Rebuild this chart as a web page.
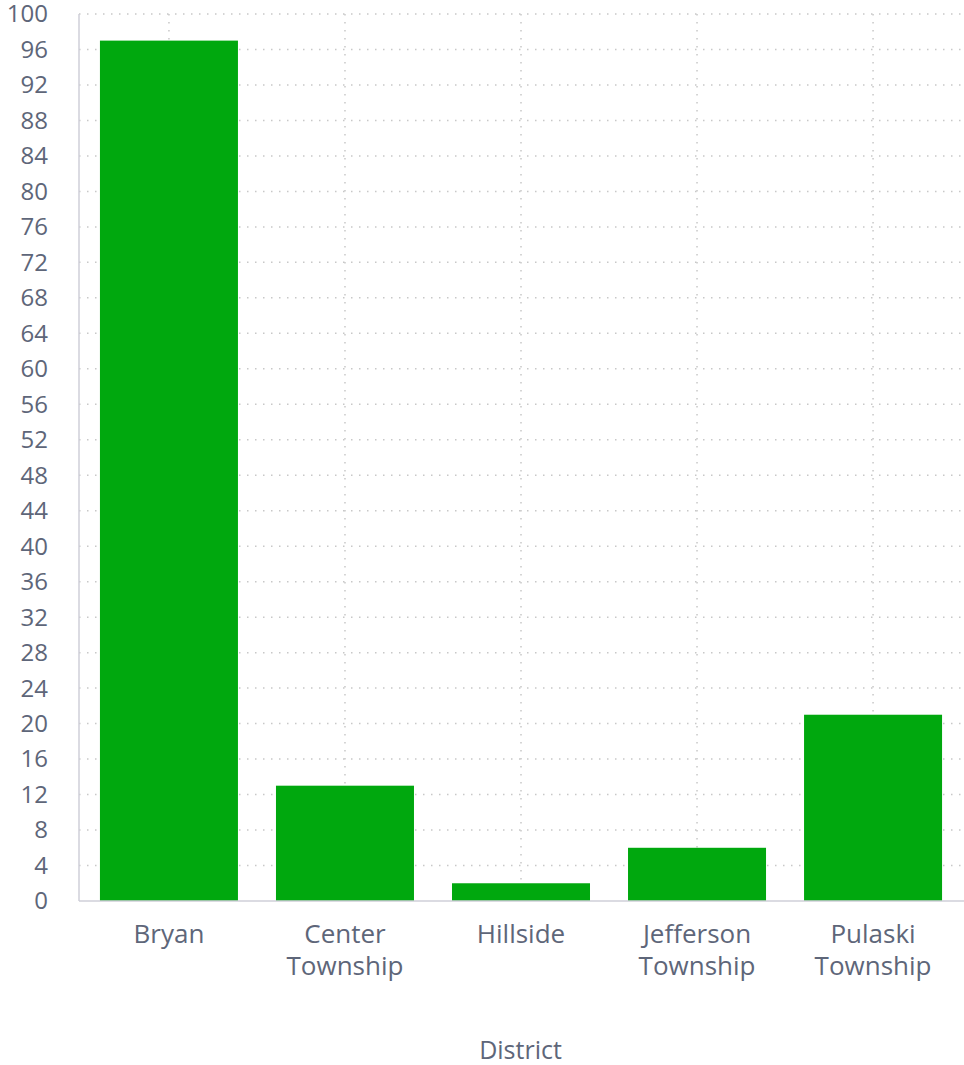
<!DOCTYPE html>
<html>
<head>
<meta charset="utf-8">
<script src="https://cdn.jsdelivr.net/npm/d3@7"></script>
<style>
  body { margin: 0; background: #fff; }
  text { font-family: "Open Sans", "Noto Sans", sans-serif; fill: #5e6679; }
</style>
</head>
<body>
<div id="chart"></div>
<script>
const districts = [["Bryan"], ["Center", "Township"], ["Hillside"], ["Jefferson", "Township"], ["Pulaski", "Township"]];
const counts = [97, 13, 2, 6, 21];
const yTicks = d3.range(0, 101, 4);
const axisTitle = "District";

const width = 964;
const height = 1065;
const margin = { top: 14, right: 1, bottom: 164, left: 79 };

const svg = d3
  .select("#chart")
  .append("svg")
  .attr("width", width)
  .attr("height", height);

const x = d3
  .scaleBand()
  .domain(districts.map((d) => d.join(" ")))
  .range([margin.left, width - margin.right])
  .paddingInner(0.216)
  .paddingOuter(0.119);

const y = d3
  .scaleLinear()
  .domain([0, 100])
  .range([height - margin.bottom, margin.top]);

const gridColor = "#c8c8c8";

// Horizontal grid lines
svg
  .append("g")
  .selectAll("line")
  .data(yTicks.filter((t) => t > 0))
  .join("line")
  .attr("x1", margin.left)
  .attr("x2", width)
  .attr("y1", (d) => y(d))
  .attr("y2", (d) => y(d))
  .attr("stroke", gridColor)
  .attr("stroke-width", 1.5)
  .attr("stroke-dasharray", "1.5 6.5");

// Vertical grid lines at category centers
svg
  .append("g")
  .selectAll("line")
  .data(x.domain())
  .join("line")
  .attr("x1", (d) => x(d) + x.bandwidth() / 2)
  .attr("x2", (d) => x(d) + x.bandwidth() / 2)
  .attr("y1", y(100))
  .attr("y2", y(0))
  .attr("stroke", gridColor)
  .attr("stroke-width", 1.5)
  .attr("stroke-dasharray", "1.5 6.5");

// Bars
svg
  .append("g")
  .selectAll("rect")
  .data(districts.map((d, i) => ({ name: d.join(" "), value: counts[i] })))
  .join("rect")
  .attr("x", (d) => x(d.name))
  .attr("width", x.bandwidth())
  .attr("y", (d) => y(d.value))
  .attr("height", (d) => y(0) - y(d.value))
  .attr("fill", "#00a80e");

// Axis lines
svg
  .append("line")
  .attr("x1", margin.left)
  .attr("x2", margin.left)
  .attr("y1", y(100))
  .attr("y2", y(0))
  .attr("stroke", "#cfcfd8")
  .attr("stroke-width", 1.5);

svg
  .append("line")
  .attr("x1", margin.left)
  .attr("x2", width)
  .attr("y1", y(0))
  .attr("y2", y(0))
  .attr("stroke", "#cfcfd8")
  .attr("stroke-width", 1.5);

// Y tick labels
svg
  .append("g")
  .selectAll("text")
  .data(yTicks)
  .join("text")
  .attr("x", 48)
  .attr("y", (d) => y(d))
  .attr("dy", "0.35em")
  .attr("text-anchor", "end")
  .attr("font-size", 24)
  .text((d) => d);

// X tick labels (wrapped)
const xLabels = svg
  .append("g")
  .selectAll("text")
  .data(districts)
  .join("text")
  .attr("text-anchor", "middle")
  .attr("font-size", 26)
  .attr("transform", (d) => `translate(${x(d.join(" ")) + x.bandwidth() / 2}, 943)`);

xLabels
  .selectAll("tspan")
  .data((d) => d)
  .join("tspan")
  .attr("x", 0)
  .attr("y", (d, i) => i * 32)
  .text((d) => d);

// X axis title
svg
  .append("text")
  .attr("x", (margin.left + width) / 2 - 1)
  .attr("y", 1059)
  .attr("text-anchor", "middle")
  .attr("font-size", 25)
  .text(axisTitle);
</script>
</body>
</html>
